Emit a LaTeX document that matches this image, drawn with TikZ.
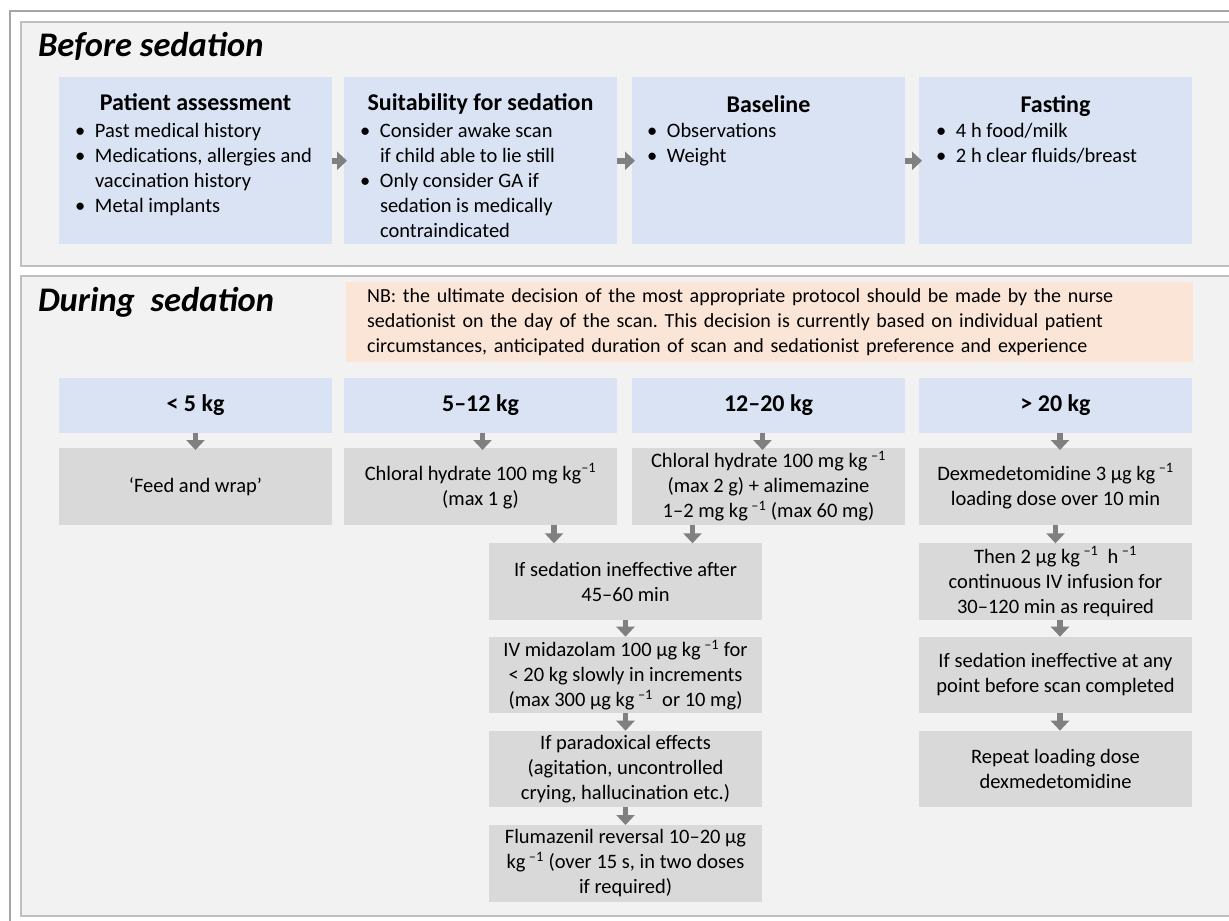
\documentclass[tikz,border=0pt]{standalone}
\usepackage{fontspec}
\setmainfont{Carlito}
\usetikzlibrary{arrows.meta,calc}
\definecolor{panelfill}{HTML}{F2F2F2}
\definecolor{panelline}{HTML}{BFBFBF}
\definecolor{frameline}{HTML}{A6A6A6}
\definecolor{bluebox}{HTML}{DAE3F3}
\definecolor{graybox}{HTML}{D9D9D9}
\definecolor{nbfill}{HTML}{FBE5D6}
\definecolor{arrowgray}{HTML}{808080}
\newcommand\bul[1]{\makebox[20pt][l]{\textbullet}#1}
\newcommand\ind[1]{\hspace*{20pt}#1}
\newcommand\mone{\textsuperscript{–1}}
\frenchspacing
\begin{document}
\begin{tikzpicture}[x=1pt,y=-1pt,
  every node/.style={inner sep=0pt, outer sep=0pt},
  bodyfont/.style={font=\fontsize{20.5}{25}\selectfont},
  nbfont/.style={font=\fontsize{20}{25}\selectfont},
  headfont/.style={font=\fontsize{24}{29}\selectfont\bfseries},
  titlefont/.style={font=\fontsize{34.5}{41}\selectfont\bfseries\itshape},
  bluebx/.style={fill=bluebox, minimum width=273pt, minimum height=167pt, anchor=north west},
  wbx/.style={fill=bluebox, minimum width=273pt, minimum height=54.7pt, anchor=north west, headfont},
  gbx/.style={fill=graybox, minimum width=273pt, minimum height=76.6pt, anchor=north west, align=center, bodyfont},
  darr/.style={draw=arrowgray, fill=arrowgray, line width=5.5pt, -{Triangle[width=18pt,length=10pt]}},
  listnode/.style={bodyfont, anchor=base west},
]
\useasboundingbox (0,0) rectangle (1229,921);
\clip (0,0) rectangle (1229,921);
\fill[white] (0,0) rectangle (1229,921);
% frames
\draw[frameline, line width=2.4pt] (9.7,11) rectangle (1260,960);
\draw[panelline, fill=panelfill, line width=2pt] (20.7,22) rectangle (1260,265.7);
\draw[panelline, fill=panelfill, line width=2pt] (20.7,276) rectangle (1260,916);

% ---------- Before sedation ----------
\node[titlefont, anchor=base west] (t1) at (38,56) {Before sedation};

\node[bluebx] (pa) at (59,77.3) {};
\node[bluebx] (su) at (344,77.3) {};
\node[bluebx] (bl) at (632,77.3) {};
\node[bluebx] (fa) at (919,77.3) {};

\node[headfont, anchor=base] (paH) at (195.5,110) {Patient assessment};
\node[headfont, anchor=base] (suH) at (480.5,110) {Suitability for sedation};
\node[headfont, anchor=base] (blH) at (768.5,112) {Baseline};
\node[headfont, anchor=base] (faH) at (1055.5,112) {Fasting};

\node[listnode] (paL) at (75,137.7) {\parbox[t]{255pt}{\raggedright
  \bul{Past medical history}\\
  \bul{Medications, allergies and}\\
  \ind{vaccination history}\\
  \bul{Metal implants}}};
\node[listnode] (suL) at (360,137.7) {\parbox[t]{255pt}{\raggedright
  \bul{Consider awake scan}\\
  \ind{if child able to lie still}\\
  \bul{Only consider GA if}\\
  \ind{sedation is medically}\\
  \ind{contraindicated}}};
\node[listnode] (blL) at (647,137.7) {\parbox[t]{255pt}{\raggedright
  \bul{Observations}\\
  \bul{Weight}}};
\node[listnode] (faL) at (936,137.7) {\parbox[t]{255pt}{\raggedright
  \bul{4 h food/milk}\\
  \bul{2 h clear fluids/breast}}};

\draw[darr] (pa.east) -- ([xshift=3pt]su.west);
\draw[darr] (su.east) -- ([xshift=3pt]bl.west);
\draw[darr] (bl.east) -- ([xshift=3pt]fa.west);

% ---------- During sedation ----------
\node[titlefont, anchor=base west] (t2) at (38,311) {During\ \ sedation};

\node[fill=nbfill, minimum width=847.3pt, minimum height=80.6pt, anchor=north west,
      inner xsep=21pt, text width=805pt, align=left, nbfont] (nb) at (346,281.7)
  {NB: the ultimate decision of the most appropriate protocol should be made by the nurse\\
   sedationist on the day of the scan. This decision is currently based on individual patient\\
   circumstances, anticipated duration of scan and sedationist preference and experience};

\node[wbx] (w1) at (59,378) {< 5 kg};
\node[wbx] (w2) at (344,378) {5–12 kg};
\node[wbx] (w3) at (632,378) {12–20 kg};
\node[wbx] (w4) at (919,378) {> 20 kg};

\node[gbx] (g1) at (59,448) {‘Feed and wrap’};
\node[gbx] (g2) at (344,448) {Chloral hydrate 100 mg kg\mone\\(max 1 g)};
\node[gbx] (g3) at (632,448) {Chloral hydrate 100 mg kg\,\mone\\(max 2 g) + alimemazine\\1–2 mg kg\,\mone{} (max 60 mg)};
\node[gbx] (g4) at (919,448) {Dexmedetomidine 3 µg kg\,\mone\\loading dose over 10 min};

\node[gbx] (m1) at (489,543.3) {If sedation ineffective after\\45–60 min};
\node[gbx] (m2) at (489,636.7) {IV midazolam 100 µg kg\,\mone{} for\\< 20 kg slowly in increments\\(max 300 µg kg\,\mone\ \ or 10 mg)};
\node[gbx] (m3) at (489,730.7) {If paradoxical effects\\(agitation, uncontrolled\\crying, hallucination etc.)};
\node[gbx] (m4) at (489,825) {Flumazenil reversal 10–20 µg\\kg\,\mone{} (over 15 s, in two doses\\if required)};

\node[gbx] (r2) at (919,543.3) {Then 2 µg kg\,\mone\ \ h\,\mone\\continuous IV infusion for\\30–120 min as required};
\node[gbx] (r3) at (919,636.7) {If sedation ineffective at any\\point before scan completed};
\node[gbx] (r4) at (919,730.7) {Repeat loading dose\\dexmedetomidine};

% arrows
\draw[darr] (w1.south) -- ([yshift=-2pt]g1.north);
\draw[darr] ([xshift=2pt]w2.south) -- ([xshift=2pt,yshift=-2pt]w2.south |- g2.north);
\draw[darr] ([xshift=-6pt]w3.south) -- ([xshift=-6pt,yshift=-2pt]w3.south |- g3.north);
\draw[darr] ([xshift=4.5pt]w4.south) -- ([xshift=4.5pt,yshift=-2pt]w4.south |- g4.north);

\draw[darr] ([xshift=73.5pt]g2.south) -- ([xshift=73.5pt]g2.south |- m1.north);
\draw[darr] ([xshift=-76pt]g3.south) -- ([xshift=-76pt]g3.south |- m1.north);
\draw[darr] (m1.south) -- (m2.north);
\draw[darr] (m2.south) -- (m3.north);
\draw[darr] (m3.south) -- (m4.north);

\draw[darr] (g4.south) -- (r2.north);
\draw[darr] ([xshift=4.5pt]r2.south) -- ([xshift=4.5pt]r2.south |- r3.north);
\draw[darr] ([xshift=4.5pt]r3.south) -- ([xshift=4.5pt]r3.south |- r4.north);
\end{tikzpicture}
\end{document}
